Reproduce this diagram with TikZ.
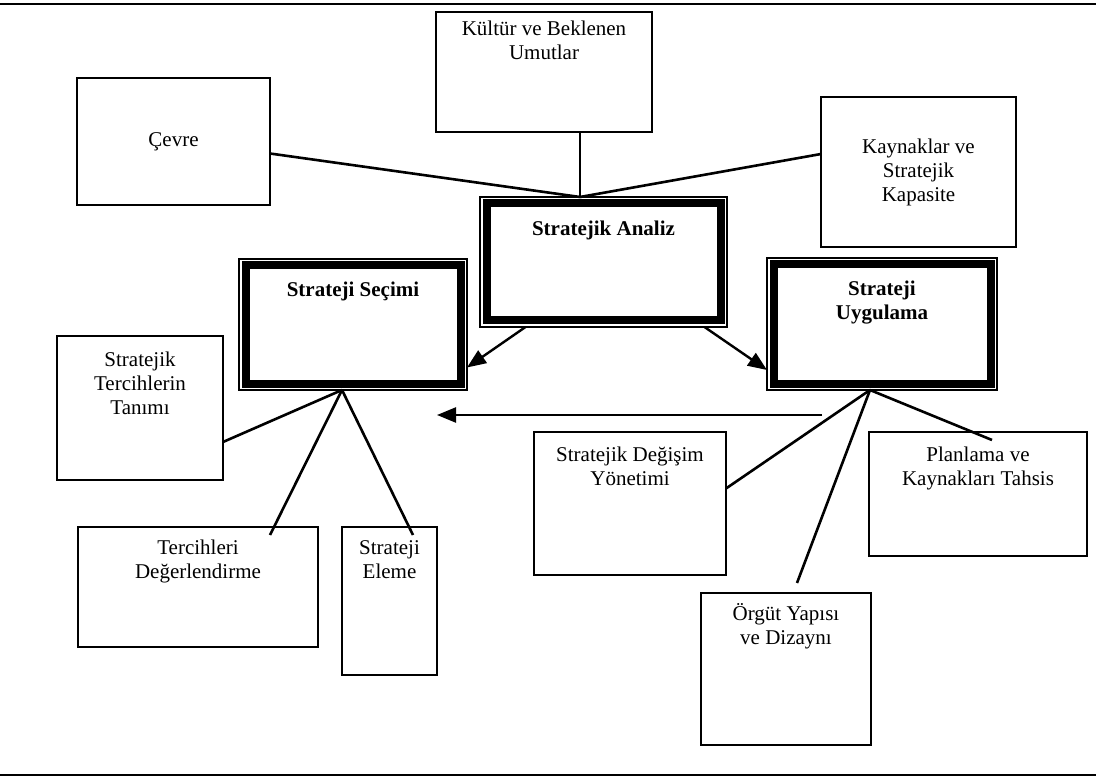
\documentclass[tikz,border=0pt]{standalone}
\usepackage{fontspec}
\setmainfont{Liberation Serif}
\usepackage{tikz}
\usetikzlibrary{arrows,arrows.meta,positioning,shapes}

\begin{document}
\begin{tikzpicture}[x=1pt, y=-1pt, node distance=2cm]
    % Define styles
    \tikzstyle{box} = [rectangle, draw, line width=2pt, outer sep=0pt, inner sep=0pt]
    \tikzstyle{mainbox} = [box, line width=1.5pt]
    \tikzstyle{txt} = [align=center, inner sep=0pt, font=\fontsize{21}{24}\selectfont]
    \tikzstyle{boldtxt} = [txt, font=\fontsize{21}{24}\selectfont\bfseries]
    \tikzstyle{conn} = [line width=2.6pt]
    \tikzstyle{arrow} = [line width=2.4pt,->,>={Triangle[length=19pt,width=15pt]}]

    \useasboundingbox (0,0) rectangle (1096,778);
    \draw [line width=1.8pt] (0,4) -- (1096,4);
    \draw [line width=1.8pt] (0,775) -- (1096,775);

    % Nodes
    \node [box, minimum width=193pt, minimum height=127pt] (cevre) at (173.5,141.5) {};
    \node [box, minimum width=216pt, minimum height=120pt] (kultur) at (544,72) {};
    \node [box, minimum width=195pt, minimum height=150pt] (kaynak) at (918.5,172) {};
    \node [mainbox, minimum width=247pt, minimum height=130pt] (analiz) at (603.5,262) {};
    \node [mainbox, minimum width=228pt, minimum height=131pt] (secim) at (353,324.5) {};
    \node [mainbox, minimum width=230pt, minimum height=132pt] (uygulama) at (882,324) {};
    \node [box, minimum width=166pt, minimum height=144pt] (tanim) at (140,408) {};
    \node [box, minimum width=240pt, minimum height=120pt] (tercih) at (198,587) {};
    \node [box, minimum width=95pt, minimum height=148pt] (eleme) at (389.5,601) {};
    \node [box, minimum width=192pt, minimum height=143pt] (degisim) at (630,503.5) {};
    \node [box, minimum width=218pt, minimum height=124pt] (planlama) at (978,494) {};
    \node [box, minimum width=170pt, minimum height=152pt] (orgut) at (786,669) {};

    % thick inner frames
    \foreach \n in {analiz,secim,uygulama}
        \draw [line width=8pt] ([xshift=6.5pt,yshift=-6.5pt]\n.north west) rectangle ([xshift=-6.5pt,yshift=6.5pt]\n.south east);

    % Texts
    \node [txt] (cevre-t) at (cevre) {Çevre};
    \node [txt, below=9pt of kultur.north] (kultur-t) {Kültür ve Beklenen\\Umutlar};
    \node [txt] (kaynak-t) at (kaynak) {Kaynaklar ve\\Stratejik\\Kapasite};
    \node [boldtxt, below=24pt of analiz.north] (analiz-t) {Stratejik Analiz};
    \node [boldtxt, below=23pt of secim.north] (secim-t) {Strateji Seçimi};
    \node [boldtxt, below=23pt of uygulama.north] (uygulama-t) {Strateji\\Uygulama};
    \node [txt, below=16pt of tanim.north] (tanim-t) {Stratejik\\Tercihlerin\\Tanımı};
    \node [txt, below=13pt of tercih.north] (tercih-t) {Tercihleri\\Değerlendirme};
    \node [txt, below=13pt of eleme.north] (eleme-t) {Strateji\\Eleme};
    \node [txt, below=15pt of degisim.north] (degisim-t) {Stratejik Değişim\\Yönetimi};
    \node [txt, below=15pt of planlama.north] (planlama-t) {Planlama ve\\Kaynakları Tahsis};
    \node [txt, below=10pt of orgut.north] (orgut-t) {Örgüt Yapısı\\ve Dizaynı};

    % Lines
    \coordinate (tophub) at ([xshift=-23.5pt]analiz.north);
    \coordinate (sechub) at ([xshift=-11pt]secim.south);
    \coordinate (uyghub) at ([xshift=-12pt]uygulama.south);
    \draw [conn] ([yshift=-12pt]cevre.east) -- (tophub);
    \draw [conn] (tophub |- kultur.south) -- (tophub);
    \draw [conn] ([yshift=18pt]kaynak.west) -- (tophub);
    \draw [conn] (sechub) -- ([yshift=-34pt]tanim.east);
    \draw [conn] (sechub) -- ([xshift=72pt,yshift=-8pt]tercih.north);
    \draw [conn] (sechub) -- ([xshift=23.5pt,yshift=-8pt]eleme.north);
    \draw [conn] (uyghub) -- ([yshift=15pt]degisim.east);
    \draw [conn] (uyghub) -- ([xshift=11pt,yshift=10pt]orgut.north);
    \draw [conn] (uyghub) -- ([xshift=14pt,yshift=-8pt]planlama.north);

    % Arrows
    \coordinate (geri-bas) at (822,415);
    \coordinate (geri-son) at (437,415);
    \draw [arrow] ([xshift=-78pt]analiz.south) -- ([yshift=-43pt]secim.east);
    \draw [arrow] ([xshift=101pt]analiz.south) -- ([yshift=-46pt]uygulama.west);
    \draw [arrow] (geri-bas) -- (geri-son);
\end{tikzpicture}
\end{document}
